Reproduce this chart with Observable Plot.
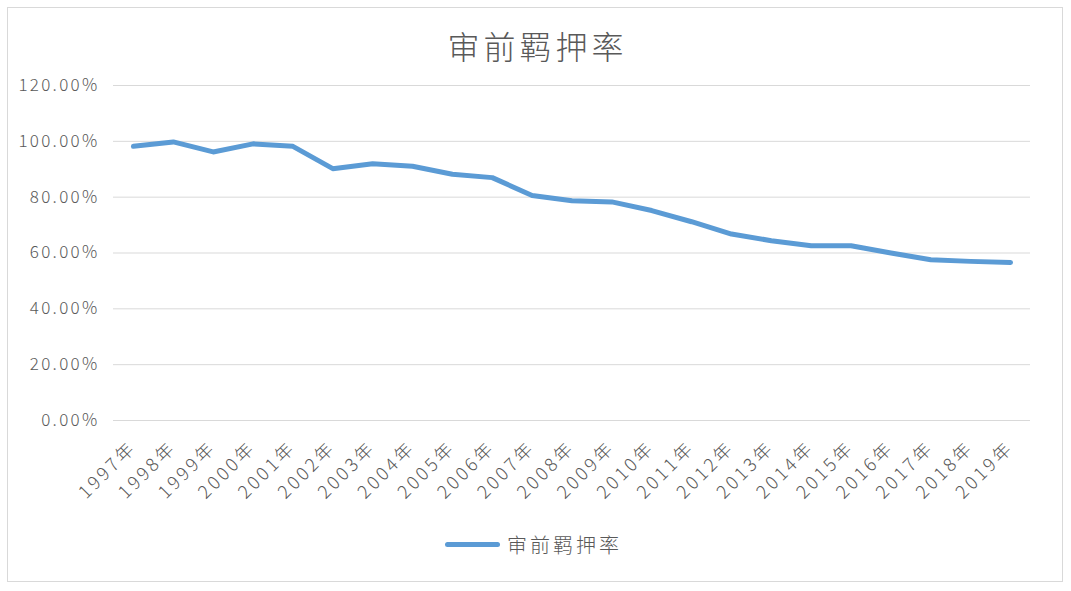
<!DOCTYPE html>
<html>
<head>
<meta charset="utf-8">
<script src="https://cdn.jsdelivr.net/npm/d3@7"></script>
<script src="https://cdn.jsdelivr.net/npm/@observablehq/plot@0.6"></script>
<style>
  html, body { margin: 0; padding: 0; background: #fff; }
  #wrap { position: relative; width: 1071px; height: 591px; overflow: hidden; font-family: "Noto Sans CJK SC", "Noto Sans", sans-serif; font-weight: 300; }
  #frame { position: absolute; left: 7px; top: 7px; width: 1056px; height: 575px; border: 1px solid #d9d9d9; box-sizing: border-box; }
  #title { position: absolute; left: 0; width: 1071px; top: 22px; text-align: center; font-size: 32px; color: #595959; letter-spacing: 4px; text-indent: 4px; font-weight: 300; }
  #legend { position: absolute; top: 530px; left: 445px; display: flex; align-items: center; font-size: 20px; color: #595959; letter-spacing: 3px; font-weight: 300; }
  #legend .sw { width: 55px; height: 5px; background: #5B9BD5; border-radius: 3px; margin-right: 7px; }
  #chart { position: absolute; left: 0; top: 0; }
  #chart svg text { fill: #595959; font-weight: 300; }
  #chart svg g[aria-label="y-axis tick label"] text { letter-spacing: 2.3px; }
  #chart svg g[aria-label="x-axis tick label"] text { letter-spacing: 3.2px; }
</style>
</head>
<body>
<div id="wrap">
  <div id="frame"></div>
  <div id="chart"></div>
  <div id="title">审前羁押率</div>
  <div id="legend"><div class="sw"></div><span>审前羁押率</span></div>
</div>
<script>
const seriesName = "审前羁押率";
const years = ["1997年","1998年","1999年","2000年","2001年","2002年","2003年","2004年","2005年","2006年","2007年","2008年","2009年","2010年","2011年","2012年","2013年","2014年","2015年","2016年","2017年","2018年","2019年"];
const rates = [98.2, 99.8, 96.2, 99.1, 98.2, 90.2, 92.0, 91.1, 88.2, 87.0, 80.6, 78.7, 78.3, 75.2, 71.2, 66.8, 64.4, 62.6, 62.6, 60.0, 57.6, 57.0, 56.6];
const yTicks = [0, 20, 40, 60, 80, 100, 120];

const data = years.map((y, i) => ({year: y, rate: rates[i]}));

const chart = Plot.plot({
  width: 1071,
  height: 591,
  marginTop: 85,
  marginBottom: 171,
  marginLeft: 113,
  marginRight: 41,
  style: { fontFamily: "'Noto Sans CJK SC', 'Noto Sans', sans-serif", fontSize: "17px", background: "transparent", overflow: "visible" },
  x: { type: "point", domain: years, padding: 0.5, round: false },
  y: { domain: [0, 120] },
  marks: [
    Plot.gridY(yTicks, { stroke: "#d9d9d9", strokeOpacity: 1, strokeWidth: 1 }),
    Plot.axisY(yTicks, { tickSize: 0, tickPadding: 14, tickFormat: d => d.toFixed(2) + "%", fontSize: 17, label: null }),
    Plot.axisX({ tickSize: 0, tickPadding: 24, tickRotate: -45, fontSize: 18, label: null }),
    Plot.line(data, { x: "year", y: "rate", stroke: "#5B9BD5", strokeWidth: 5, strokeLinejoin: "round", strokeLinecap: "round" })
  ]
});
document.getElementById("chart").appendChild(chart);
</script>
</body>
</html>
